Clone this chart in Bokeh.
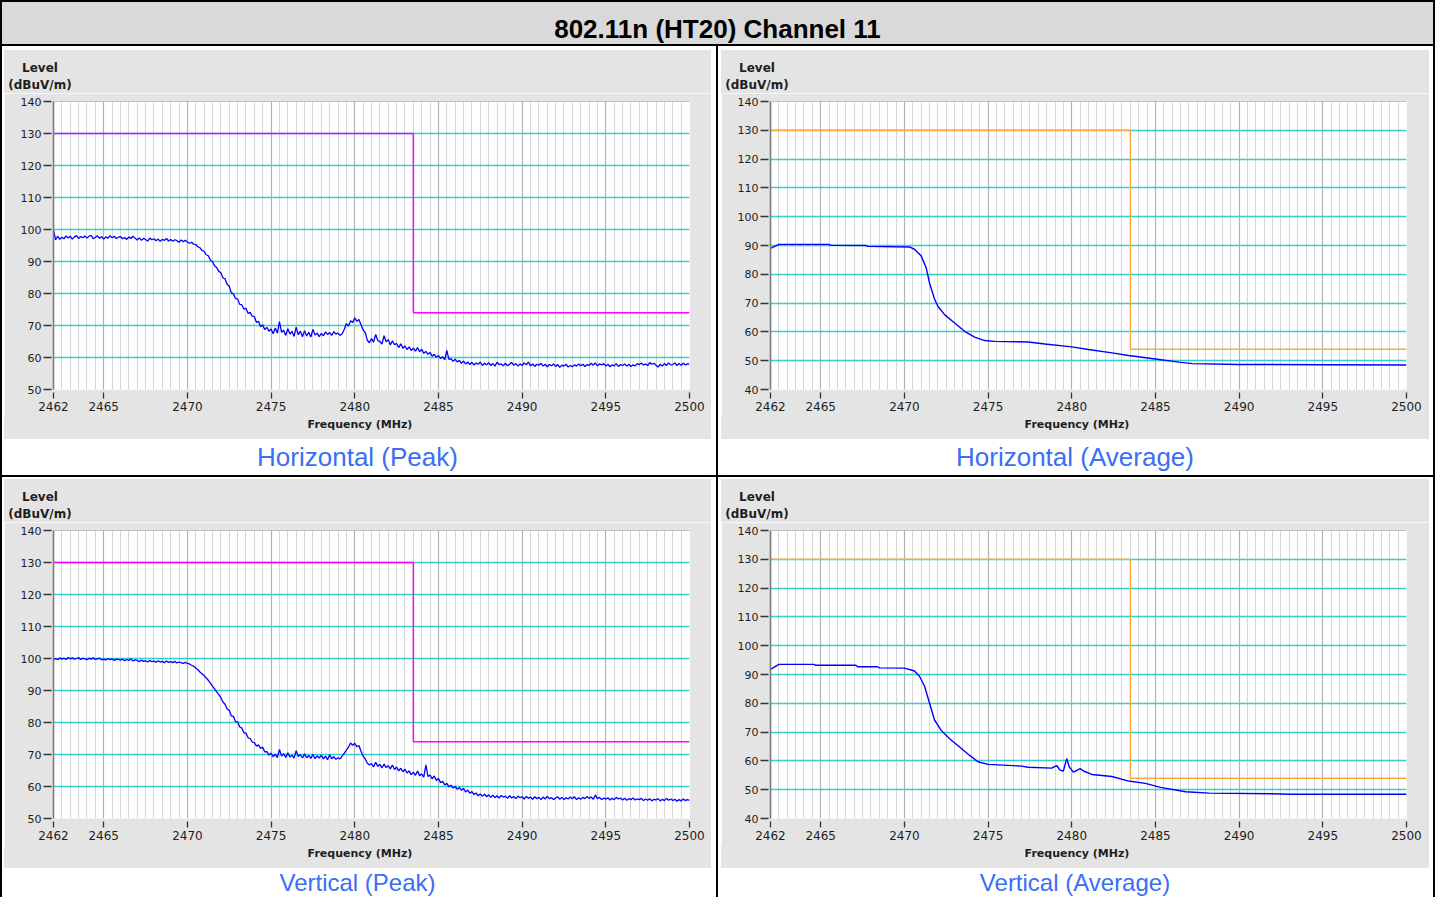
import numpy as np
from bokeh.plotting import figure
from bokeh.models import Range1d, FixedTicker, Grid, Span, Div, Spacer
from bokeh.layouts import row, column
from bokeh.embed import file_html
from bokeh.resources import INLINE

# ---------------- data ----------------
TITLE = "802.11n (HT20) Channel 11"
CAPTIONS = ["Horizontal (Peak)", "Horizontal (Average)", "Vertical (Peak)", "Vertical (Average)"]
Y_LABEL_1 = "Level"
Y_LABEL_2 = "(dBuV/m)"
X_LABEL = "Frequency (MHz)"

X_TICKS = [2462, 2465, 2470, 2475, 2480, 2485, 2490, 2495, 2500]
PEAK_Y_TICKS = [50, 60, 70, 80, 90, 100, 110, 120, 130, 140]
AVG_Y_TICKS = [40, 50, 60, 70, 80, 90, 100, 110, 120, 130, 140]

limit_freq = [2462, 2483.5, 2483.5, 2500]
peak_limit = [130, 130, 74, 74]
avg_limit = [130, 130, 54, 54]

# peak traces sampled every 0.125 MHz from 2462 to 2500 (one row per MHz)
peak_freq = list(np.arange(2462.0, 2500.001, 0.125))

h_peak = [
    99.8, 96.8, 97.9, 96.9, 97.6, 97.1, 98.0, 97.3,   # 2462
    97.9, 97.0, 97.7, 98.1, 97.2, 97.8, 97.4, 98.0,   # 2463
    97.3, 97.9, 98.2, 97.1, 97.6, 98.0, 97.2, 97.8,   # 2464
    97.0, 97.7, 97.3, 98.1, 97.4, 97.9, 97.2, 97.6,   # 2465
    97.8, 97.1, 97.5, 96.9, 97.7, 97.2, 97.9, 97.3,   # 2466
    96.7, 97.4, 96.6, 97.2, 96.9, 96.4, 97.3, 96.8,   # 2467
    97.1, 96.5, 97.0, 96.3, 96.9, 96.6, 97.2, 96.4,   # 2468
    96.9, 96.3, 96.8, 96.5, 96.0, 96.7, 96.2, 96.6,   # 2469
    96.1, 95.7, 96.0, 95.4, 95.3, 94.6, 94.3, 93.5,   # 2470
    93.2, 92.1, 91.8, 90.4, 90.0, 88.6, 88.1, 86.9,   # 2471
    86.5, 84.9, 84.6, 82.8, 82.3, 80.2, 79.9, 78.4,   # 2472
    78.3, 76.6, 76.5, 75.1, 75.4, 73.8, 74.1, 72.9,   # 2473
    72.8, 71.0, 71.3, 69.6, 70.2, 68.7, 69.4, 68.2,   # 2474
    68.9, 67.4, 69.2, 67.6, 71.2, 67.9, 68.5, 66.9,   # 2475
    69.0, 67.3, 68.2, 66.6, 69.5, 67.1, 68.3, 66.5,   # 2476
    68.4, 66.7, 67.9, 66.4, 68.8, 67.0, 67.6, 66.5,   # 2477
    67.5, 66.8, 68.0, 67.2, 67.8, 66.9, 68.1, 67.3,   # 2478
    67.6, 66.9, 67.4, 68.8, 70.6, 69.8, 71.5, 70.9,   # 2479
    72.4, 71.3, 71.9, 70.2, 68.6, 67.8, 65.4, 64.6,   # 2480
    65.9, 64.8, 67.2, 65.3, 65.0, 64.2, 66.8, 64.9,   # 2481
    65.6, 63.9, 65.2, 64.0, 64.4, 63.1, 64.3, 62.9,   # 2482
    63.6, 62.5, 63.3, 62.2, 62.9, 62.0, 63.1, 61.8,   # 2483
    62.6, 61.3, 61.9, 61.0, 61.6, 60.4, 61.0, 60.1,   # 2484
    60.6, 59.7, 60.2, 59.3, 62.2, 59.4, 59.6, 58.8,   # 2485
    59.5, 58.6, 59.1, 58.2, 58.9, 58.0, 58.6, 57.8,   # 2486
    58.5, 57.6, 58.3, 57.9, 58.6, 57.5, 58.2, 57.7,   # 2487
    58.4, 57.5, 58.1, 57.3, 58.5, 57.8, 58.0, 57.4,   # 2488
    58.2, 57.4, 57.9, 58.5, 57.6, 58.1, 57.3, 58.0,   # 2489
    57.5, 58.3, 57.7, 58.6, 57.4, 58.0, 57.2, 57.9,   # 2490
    57.6, 58.2, 57.3, 57.9, 57.1, 57.8, 57.4, 58.0,   # 2491
    57.2, 57.8, 56.9, 57.6, 57.3, 57.9, 57.0, 57.5,   # 2492
    57.1, 57.7, 57.3, 58.0, 57.4, 57.9, 57.2, 57.8,   # 2493
    57.5, 58.2, 57.6, 58.3, 57.4, 58.0, 57.7, 58.1,   # 2494
    57.3, 57.9, 57.1, 57.7, 57.4, 58.1, 57.2, 57.8,   # 2495
    57.5, 58.0, 57.3, 57.9, 57.2, 57.7, 57.4, 58.1,   # 2496
    57.8, 58.3, 57.6, 58.0, 57.5, 58.4, 57.9, 58.2,   # 2497
    57.6, 57.0, 57.9, 57.3, 58.1, 57.5, 58.3, 57.7,   # 2498
    57.8, 58.3, 57.5, 58.1, 57.6, 58.2, 57.7, 58.0,   # 2499
    57.9,                                             # 2500
]

v_peak = [
    99.5, 100.0, 99.6, 100.2, 99.8, 100.1, 99.7, 100.3,   # 2462
    99.9, 100.2, 99.8, 100.0, 100.3, 99.7, 100.1, 99.9,   # 2463
    99.6, 100.1, 99.8, 100.2, 99.7, 99.9, 100.1, 99.6,    # 2464
    99.8, 99.5, 100.0, 99.6, 99.9, 99.4, 99.8, 99.7,      # 2465
    99.5, 99.8, 99.3, 99.7, 99.4, 99.9, 99.2, 99.6,       # 2466
    99.4, 99.0, 99.5, 99.1, 99.3, 98.9, 99.4, 99.0,       # 2467
    99.2, 98.8, 99.3, 98.9, 99.1, 98.7, 99.2, 98.8,       # 2468
    99.0, 98.7, 99.1, 98.6, 98.9, 98.7, 98.5, 98.8,       # 2469
    98.5, 98.3, 97.9, 97.6, 97.0, 96.5, 95.8, 95.2,       # 2470
    94.7, 93.9, 93.2, 92.3, 91.4, 90.5, 89.6, 88.7,       # 2471
    87.8, 86.4, 85.7, 84.2, 83.8, 82.1, 81.9, 80.3,       # 2472
    80.2, 78.6, 78.3, 76.8, 76.7, 75.2, 75.0, 73.9,       # 2473
    73.8, 72.6, 73.0, 71.9, 72.3, 70.8, 70.9, 69.8,       # 2474
    70.4, 69.3, 70.1, 69.0, 71.6, 69.5, 70.3, 69.1,       # 2475
    70.5, 69.2, 69.8, 68.9, 71.2, 69.4, 70.0, 68.9,       # 2476
    70.2, 69.0, 69.7, 68.8, 70.1, 68.7, 69.6, 68.9,       # 2477
    69.8, 68.6, 69.5, 68.4, 69.9, 68.7, 69.3, 68.5,       # 2478
    69.0, 68.6, 69.5, 70.4, 71.4, 72.3, 73.6, 72.9,       # 2479
    73.5, 72.4, 72.8, 71.0, 69.5, 68.6, 67.3, 66.7,       # 2480
    67.2, 66.1, 67.6, 66.3, 66.9, 65.8, 67.0, 65.9,       # 2481
    66.5, 65.5, 66.7, 65.3, 66.1, 64.9, 65.7, 64.6,       # 2482
    65.4, 64.2, 64.9, 63.7, 64.5, 63.5, 64.8, 63.4,       # 2483
    63.9, 62.9, 66.8, 63.1, 63.6, 62.4, 63.3, 61.9,       # 2484
    62.5, 61.2, 61.6, 60.5, 61.0, 59.9, 60.4, 59.5,       # 2485
    60.0, 59.1, 59.7, 58.8, 59.4, 58.3, 58.9, 57.9,       # 2486
    58.4, 57.5, 58.0, 57.1, 57.7, 56.9, 57.6, 56.8,       # 2487
    57.4, 56.6, 57.3, 56.5, 57.1, 56.4, 57.2, 56.7,       # 2488
    57.0, 56.3, 57.1, 56.4, 56.9, 56.2, 57.0, 56.5,       # 2489
    56.8, 56.1, 56.9, 56.3, 56.7, 56.0, 56.8, 56.2,       # 2490
    56.6, 55.9, 56.7, 56.1, 56.9, 56.2, 56.5, 55.9,       # 2491
    56.4, 56.8, 56.0, 56.6, 55.9, 56.5, 56.1, 56.7,       # 2492
    56.2, 56.8, 55.9, 56.5, 56.0, 56.6, 56.2, 56.9,       # 2493
    56.3, 56.7, 56.0, 57.3, 56.2, 56.6, 55.9, 56.4,       # 2494
    56.0, 56.5, 55.8, 56.3, 55.9, 56.6, 56.1, 56.4,       # 2495
    55.8, 56.3, 55.7, 56.2, 55.9, 56.4, 55.8, 56.1,       # 2496
    55.9, 56.3, 55.6, 56.1, 55.7, 56.2, 55.5, 56.0,       # 2497
    55.8, 56.2, 55.5, 56.0, 55.6, 56.3, 55.7, 56.1,       # 2498
    55.6, 56.0, 55.4, 55.9, 55.5, 56.1, 55.6, 55.9,       # 2499
    55.7,                                                 # 2500
]

h_avg_freq = [2462, 2462.5, 2465.5, 2465.6, 2467.7, 2467.8, 2470.3, 2470.6, 2471.0,
              2471.3, 2471.5, 2471.8, 2472.0, 2472.4, 2473.0, 2473.6, 2474.2, 2474.8,
              2475.4, 2477.4, 2478.4, 2480.0, 2481.0, 2482.4, 2483.4, 2485.0, 2486.4,
              2487.2, 2490.0, 2495.0, 2500.0]
h_avg = [89.0, 90.4, 90.4, 90.1, 90.0, 89.7, 89.5, 88.7, 86.4,
         82.3, 77.0, 71.4, 68.9, 66.0, 63.1, 60.2, 58.2, 57.0,
         56.7, 56.5, 55.8, 54.8, 53.9, 52.7, 51.8, 50.6, 49.5,
         49.0, 48.7, 48.6, 48.5]

v_avg_freq = [2462, 2462.5, 2464.6, 2464.7, 2467.1, 2467.2, 2468.4, 2468.5, 2470.0,
              2470.6, 2470.9, 2471.2, 2471.5, 2471.8, 2472.2, 2472.7, 2473.3, 2473.9,
              2474.4, 2475.0, 2477.0, 2477.4, 2478.8, 2479.1, 2479.3, 2479.5, 2479.7,
              2479.85, 2480.1, 2480.5, 2480.7, 2481.2, 2482.4, 2483.4, 2484.4, 2485.3,
              2486.8, 2488.2, 2492.0, 2493.0, 2500.0]
v_avg = [91.8, 93.5, 93.5, 93.2, 93.2, 92.7, 92.7, 92.3, 92.2,
         91.2, 89.4, 86.0, 80.1, 74.2, 70.6, 67.7, 64.8, 61.9,
         59.7, 58.8, 58.2, 57.8, 57.5, 58.4, 56.8, 56.5, 60.8,
         57.9, 56.1, 57.3, 56.5, 55.3, 54.6, 53.0, 52.2, 50.8,
         49.3, 48.8, 48.6, 48.4, 48.4]

# ---------------- styling ----------------
FONT = "DejaVu Sans"
CSS_FONT = "'DejaVu Sans', Verdana, sans-serif"
CAP_FONT = "'Liberation Sans', Arial, sans-serif"
PANEL_BG = "#e4e4e4"
CYAN = "#36cfcf"
MINOR_V = "#d6d6d6"
MAJOR_V = "#b2b2b2"
TEXT = "#1e1e1e"

FRAME_W, FRAME_H = 636, 288
HEAD_H, FIG_TOP, FIG_BOTTOM, FOOT_H = 43, 8, 28, 22   # 43 + 8 + 288 + 28 + 22 = 389
minor_x = [float(v) for v in np.arange(2462.5, 2500, 0.5) if abs(v / 5 - round(v / 5)) > 1e-9]
major_x = [2465, 2470, 2475, 2480, 2485, 2490, 2495, 2500]


def make_fig(freq, level, lim, lim_color, y_ticks, right_border, trace_width):
    p = figure(frame_width=FRAME_W, frame_height=FRAME_H,
               x_range=Range1d(2462, 2500), y_range=Range1d(y_ticks[0], y_ticks[-1]),
               output_backend="svg", toolbar_location=None,
               min_border_left=49, min_border_right=right_border,
               min_border_top=FIG_TOP, min_border_bottom=FIG_BOTTOM,
               background_fill_color="white", border_fill_color=PANEL_BG,
               outline_line_color=None)
    p.xgrid.visible = False
    p.ygrid.visible = False
    p.add_layout(Grid(dimension=0, ticker=FixedTicker(ticks=minor_x),
                      grid_line_color=MINOR_V, grid_line_width=1))
    p.add_layout(Grid(dimension=0, ticker=FixedTicker(ticks=major_x),
                      grid_line_color=MAJOR_V, grid_line_width=1.2))
    p.add_layout(Grid(dimension=1, ticker=FixedTicker(ticks=y_ticks[1:-1]),
                      grid_line_color=CYAN, grid_line_width=1.6))
    p.add_layout(Span(location=y_ticks[-1], dimension="width",
                      line_color="#8a8a8a", line_width=1.2))

    xa = p.xaxis[0]
    xa.ticker = FixedTicker(ticks=X_TICKS)
    xa.axis_line_color = None
    xa.major_tick_in = -3
    xa.major_tick_out = 9
    xa.major_tick_line_color = "#333333"
    xa.major_tick_line_width = 1.3
    xa.minor_tick_in = 0
    xa.minor_tick_out = 0
    xa.major_label_standoff = 3
    xa.major_label_text_font = FONT
    xa.major_label_text_font_size = "12px"
    xa.major_label_text_color = TEXT

    ya = p.yaxis[0]
    ya.ticker = FixedTicker(ticks=y_ticks)
    ya.axis_line_color = "#7a7a7a"
    ya.axis_line_width = 1.6
    ya.major_tick_in = -2
    ya.major_tick_out = 10
    ya.major_tick_line_color = "#333333"
    ya.major_tick_line_width = 1.3
    ya.minor_tick_in = 0
    ya.minor_tick_out = 0
    ya.major_label_standoff = 2
    ya.major_label_text_font = FONT
    ya.major_label_text_font_size = "11px"
    ya.major_label_text_color = TEXT

    p.line(limit_freq, lim, line_color=lim_color, line_width=1.5)
    p.line(freq, level, line_color="#0000ff", line_width=trace_width)
    return p


def header(w):
    html = (f'<div style="position:relative;width:{w}px;height:{HEAD_H}px;">'
            f'<div style="position:absolute;left:0px;top:10px;width:72px;text-align:center;'
            f'font-family:{CSS_FONT};font-size:12px;font-weight:bold;line-height:16.5px;color:{TEXT};">'
            f'{Y_LABEL_1}<br>{Y_LABEL_2}</div></div>')
    return Div(text=html, width=w, height=HEAD_H, margin=0,
               styles={"background-color": PANEL_BG, "overflow": "hidden"})


def footer(w):
    html = (f'<div style="position:relative;width:{w}px;height:{FOOT_H}px;">'
            f'<div style="position:absolute;left:256px;top:1px;width:200px;text-align:center;'
            f'font-family:{CSS_FONT};font-size:11px;font-weight:bold;line-height:14px;color:{TEXT};">'
            f'{X_LABEL}</div></div>')
    return Div(text=html, width=w, height=FOOT_H, margin=0,
               styles={"background-color": PANEL_BG, "overflow": "hidden"})


def bline(w, h):
    return Div(text="", width=w, height=h, margin=0,
               styles={"background-color": "#000000"})


def caption(text, w, h, lh, size):
    html = (f'<div style="width:{w}px;height:{lh}px;line-height:{lh}px;text-align:center;'
            f'font-family:{CAP_FONT};font-size:{size}px;color:#3a6ef5;">{text}</div>')
    return Div(text=html, width=w, height=h, margin=0, styles={"overflow": "hidden"})


def cell(fig, text, fig_w, left_pad, right_pad, top_pad, cap_h, cap_lh, cap_size):
    inner = column(Spacer(width=fig_w, height=top_pad, margin=0),
                   header(fig_w), fig, footer(fig_w),
                   caption(text, fig_w, cap_h, cap_lh, cap_size), spacing=0)
    return row(Spacer(width=left_pad, height=10, margin=0), inner,
               Spacer(width=right_pad, height=10, margin=0), spacing=0)


p_hp = make_fig(peak_freq, h_peak, peak_limit, "#ff00ff", PEAK_Y_TICKS, 22, 1.3)
p_ha = make_fig(h_avg_freq, h_avg, avg_limit, "#ffa940", AVG_Y_TICKS, 23, 1.4)
p_vp = make_fig(peak_freq, v_peak, peak_limit, "#ff00ff", PEAK_Y_TICKS, 22, 1.3)
p_va = make_fig(v_avg_freq, v_avg, avg_limit, "#ffa940", AVG_Y_TICKS, 23, 1.4)

TITLE_H = 42
title_html = (f'<div style="width:1431px;padding-top:14px;line-height:26px;text-align:center;'
              f'font-family:{CAP_FONT};font-size:26px;font-weight:bold;color:#000;">{TITLE}</div>')
title_div = Div(text=title_html, width=1431, height=TITLE_H, margin=0,
                styles={"background-color": "#d9d9d9", "overflow": "hidden"})

row1_h = 4 + 389 + 36
row2_h = 2 + 389 + 29

layout = column(
    bline(1435, 2),
    row(bline(2, TITLE_H), title_div, bline(2, TITLE_H), spacing=0),
    bline(1435, 2),
    row(bline(2, row1_h),
        cell(p_hp, CAPTIONS[0], 707, 2, 5, 4, 36, 36, 26),
        bline(2, row1_h),
        cell(p_ha, CAPTIONS[1], 708, 3, 4, 4, 36, 36, 26),
        bline(2, row1_h), spacing=0),
    bline(1435, 2),
    row(bline(2, row2_h),
        cell(p_vp, CAPTIONS[2], 707, 2, 5, 2, 29, 29, 24),
        bline(2, row2_h),
        cell(p_va, CAPTIONS[3], 708, 3, 4, 2, 29, 29, 24),
        bline(2, row2_h), spacing=0),
    spacing=0,
)

open("out.html", "w").write(file_html(layout, INLINE))
